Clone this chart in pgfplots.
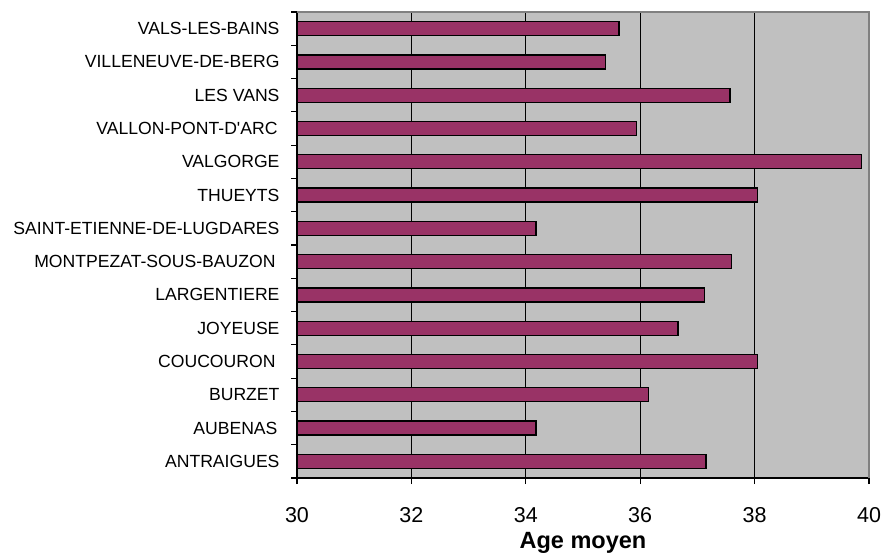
\documentclass[border=0pt]{standalone}
\usepackage{pgfplots}
\pgfplotsset{compat=1.18}
\usepackage{fontspec}
\setmainfont{Liberation Sans}[Ligatures=TeXOff]
\definecolor{barcol}{HTML}{993366}
\definecolor{bggray}{HTML}{C0C0C0}
\definecolor{bordergray}{HTML}{808080}
\begin{document}
\begin{tikzpicture}
\useasboundingbox (0,0) rectangle (884bp,553bp);
\begin{axis}[
  at={(297bp,75bp)}, anchor=south west,
  width=572bp, height=466bp, scale only axis,
  xmin=30, xmax=40, ymin=-0.5, ymax=13.5,
  xbar, bar width=14bp,
  axis background/.style={fill=bggray},
  axis x line*=bottom, axis y line*=left,
  axis line style={black, line width=1.2bp},
  xtick={30,32,...,40},
  ytick={0,...,13},
  yticklabels={ANTRAIGUES, AUBENAS\kern2bp, BURZET, COUCOURON\kern4bp, JOYEUSE, LARGENTIERE, MONTPEZAT-SOUS-BAUZON\kern4bp, SAINT-ETIENNE-DE-LUGDARES, THUEYTS, VALGORGE, VALLON-PONT-D'ARC\kern2bp, LES VANS, VILLENEUVE-DE-BERG, VALS-LES-BAINS},
  minor ytick={-0.5,0.5,...,13.5},
  major y tick style={draw=none},
  minor y tick style={black, line width=1.2bp},
  x tick style={black, line width=1.2bp},
  tick align=outside,
  major tick length=6bp, minor tick length=6bp,
  extra x ticks={32,34,36,38},
  extra x tick labels={},
  extra x tick style={grid=major, tick style={draw=none}},
  grid style={black, line width=1.2bp},
  yticklabel style={font=\fontsize{17.6bp}{20bp}\selectfont, anchor=east, xshift=-8bp},
  xticklabel style={font=\fontsize{21.5bp}{24bp}\selectfont, anchor=base, yshift=-38bp},
  /pgf/number format/assume math mode=true,
  xlabel={Age moyen},
  xlabel style={font=\fontsize{23.5bp}{26bp}\selectfont\bfseries, at={(axis description cs:0.5,0)}, anchor=base, yshift=-70bp},
]
\addplot[fill=barcol, draw=black, line width=1.2bp] coordinates {
(37.15,0) (34.18,1) (36.14,2) (38.05,3) (36.66,4) (37.13,5) (37.60,6)
(34.18,7) (38.05,8) (39.87,9) (35.93,10) (37.57,11) (35.40,12) (35.63,13)
};
\end{axis}
\draw[bordergray, line width=1.2bp] (297bp,541bp) -- (869bp,541bp) -- (869bp,75bp);
\end{tikzpicture}
\end{document}
